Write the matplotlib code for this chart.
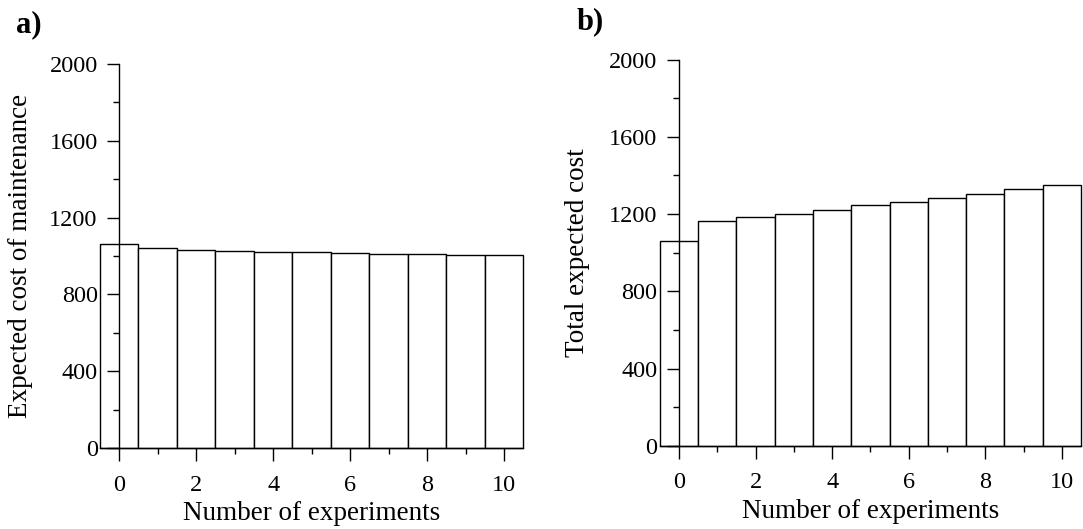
import matplotlib
matplotlib.use("Agg")
import matplotlib.pyplot as plt
from matplotlib.ticker import MultipleLocator

plt.rcParams["font.family"] = ["Liberation Serif", "DejaVu Serif"]

# Number of experiments (0..10)
experiments = list(range(11))
# a) expected cost of maintenance
maintenance_cost = [1060, 1040, 1032, 1026, 1022, 1019, 1015, 1012, 1010, 1007, 1004]
# b) total expected cost
total_cost = [1060, 1164, 1183, 1200, 1223, 1245, 1264, 1285, 1306, 1329, 1351]

y_ticks = [0, 400, 800, 1200, 1600, 2000]
x_ticks = [0, 2, 4, 6, 8, 10]

fig = plt.figure(figsize=(10.83, 5.29), dpi=100)
ax_a = fig.add_axes([0.0923, 0.1526, 0.3909, 0.7270])
ax_b = fig.add_axes([0.6092, 0.1569, 0.3890, 0.7306])

panels = [
    (ax_a, maintenance_cost, "Expected cost of maintenance", "a)", (0.015, 0.9386), -0.158),
    (ax_b, total_cost, "Total expected cost", "b)", (0.532, 0.9442), -0.165),
]

for ax, values, ylabel, tag, tag_pos, ylab_x in panels:
    ax.bar(experiments, values, width=1.0, color="white",
           edgecolor="black", linewidth=1.0, zorder=1, clip_on=False)
    ax.set_xlim(-0.5, 10.5)
    ax.set_ylim(0, 2000)
    ax.spines["top"].set_visible(False)
    ax.spines["right"].set_visible(False)
    ax.spines["left"].set_position(("data", 0))
    ax.spines["left"].set_zorder(3)
    for s in ("left", "bottom"):
        ax.spines[s].set_linewidth(1.0)
    ax.set_xticks(x_ticks)
    ax.set_yticks(y_ticks)
    ax.xaxis.set_minor_locator(MultipleLocator(1))
    ax.yaxis.set_minor_locator(MultipleLocator(200))
    ax.tick_params(which="major", direction="out", length=9, width=1.0,
                   labelsize=17.5, pad=6.5)
    ax.tick_params(which="minor", direction="out", length=4.3, width=1.0)
    ax.tick_params(axis="x", which="major", pad=10)
    ax.set_xlabel("Number of experiments", fontsize=19.5, labelpad=4)
    ax.set_ylabel(ylabel, fontsize=19.5)
    ax.yaxis.set_label_coords(ylab_x, 0.5)
    fig.text(tag_pos[0], tag_pos[1], tag, fontsize=22, fontweight="bold",
             ha="left", va="baseline")

fig.savefig("out.png", dpi=100)
